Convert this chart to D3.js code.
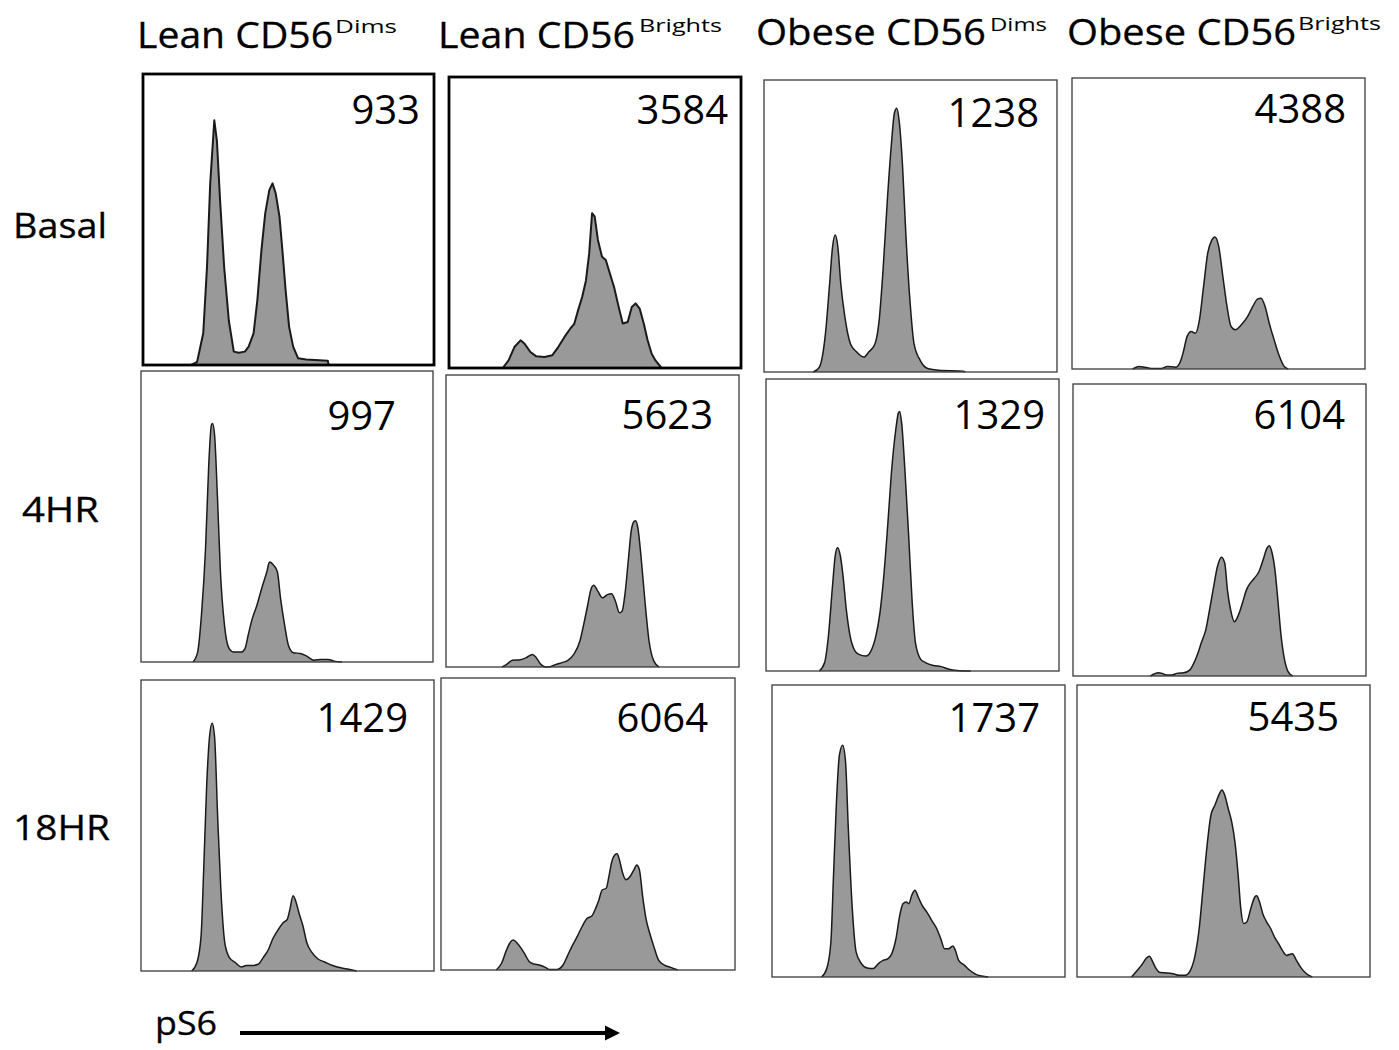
<!DOCTYPE html>
<html><head><meta charset="utf-8">
<script src="https://cdn.jsdelivr.net/npm/d3@7"></script>
<style>html,body{margin:0;padding:0;background:#fff;} svg{display:block;}</style>
</head><body>
<svg id="chart" width="1399" height="1050"></svg>
<script>
// ---------- DATA ----------
const groups = ["Lean CD56", "Lean CD56", "Obese CD56", "Obese CD56"];
const subsets = ["Dims", "Brights", "Dims", "Brights"];
const timepoints = ["Basal", "4HR", "18HR"];
const mfiBasal = [933, 3584, 1238, 4388];
const mfi4hr = [997, 5623, 1329, 6104];
const mfi18hr = [1429, 6064, 1737, 5435];
const axisLabel = "pS6";

// histograms: [pS6 position (% of panel width), count (% of panel height)]
const leanDimBasal = [[16.6,0],[18.6,1.1],[20.7,10.9],[22.0,33.8],[23.1,62.5],[24.5,84.1],[25.4,77.0],[26.5,56.4],[27.9,33.5],[29.5,15.2],[31.2,4.6],[32.9,4.2],[35.0,4.6],[36.3,6.3],[38.0,10.9],[39.3,22.3],[40.7,39.5],[42.0,52.1],[43.4,60.1],[44.5,62.4],[45.6,59.0],[46.9,51.0],[47.9,39.5],[49.0,25.8],[50.2,13.2],[51.6,6.3],[53.3,2.3],[56.1,1.9],[63.5,1.5],[63.8,0]];
const leanBrightBasal = [[18.4,0],[20.4,2.6],[22.4,7.2],[24.5,9.5],[25.9,8.3],[27.9,5.5],[29.9,4.0],[32.7,3.8],[35.4,4.4],[37.4,7.2],[39.5,10.6],[41.5,13.5],[42.9,15.2],[44.2,19.8],[45.6,24.4],[46.9,30.1],[48.0,39.3],[49.0,53.2],[49.9,52.0],[51.0,44.0],[52.4,38.2],[53.7,37.1],[55.1,32.5],[56.5,27.9],[58.1,21.0],[59.5,15.3],[61.2,15.8],[62.6,21.0],[63.9,22.2],[65.3,20.4],[66.7,15.3],[68.0,9.6],[69.4,4.9],[70.7,2.6],[72.8,0]];
const obeseDimBasal = [[16.8,0],[18.9,1.7],[21.0,13.4],[22.4,30.3],[23.4,42.9],[24.3,46.9],[25.2,42.9],[26.2,30.3],[27.6,18.9],[29.5,9.7],[31.6,6.9],[34.1,5.1],[35.8,6.9],[37.9,9.7],[39.3,17.7],[40.7,36.0],[42.1,58.9],[43.5,78.3],[44.5,88.6],[45.3,90.3],[46.1,86.3],[47.3,70.3],[48.4,47.4],[49.8,24.6],[51.2,9.7],[53.3,4.0],[56.1,1.1],[59.6,0.6],[68.0,0.3],[68.7,0]];
const obeseBrightBasal = [[20.7,0],[22.8,0.9],[24.9,0.6],[27.0,0.2],[30.5,0.2],[32.6,0.9],[35.4,0.6],[36.8,2.1],[37.9,5.5],[39.3,11.2],[40.7,12.9],[42.1,12.3],[43.5,16.9],[44.9,28.3],[46.3,39.7],[47.7,44.3],[48.8,45.4],[50.1,42.0],[51.5,31.7],[52.9,21.5],[54.3,14.6],[55.7,13.5],[57.8,15.2],[59.9,18.0],[61.7,21.5],[63.4,24.1],[64.5,24.3],[65.9,21.5],[67.3,15.8],[69.0,10.0],[70.6,4.9],[72.4,0.9],[73.8,0]];
const leanDim4hr = [[17.8,0],[19.4,3.4],[20.7,16.1],[22.1,39.0],[23.2,67.7],[24.1,81.4],[24.5,82.0],[25.2,78.0],[26.2,56.2],[27.2,31.0],[28.6,12.6],[30.2,4.6],[31.8,3.4],[34.3,3.4],[35.6,4.6],[36.7,9.2],[38.1,14.9],[39.7,19.5],[41.3,25.2],[43.1,31.0],[44.0,34.4],[45.4,33.3],[46.7,31.0],[47.8,21.8],[49.2,12.6],[50.5,5.7],[52.2,3.2],[54.6,2.9],[56.6,2.1],[59.3,0.6],[61.4,0.9],[64.1,0.9],[66.1,0.3],[68.8,0]];
const leanBright4hr = [[19.1,0],[20.7,0.9],[22.7,2.3],[25.4,2.5],[27.4,3.2],[29.5,4.3],[30.8,3.2],[32.2,1.1],[33.9,0],[35.8,0.2],[37.6,0.9],[39.6,1.5],[41.6,2.3],[43.6,4.3],[45.7,8.9],[47.0,14.6],[48.4,21.4],[49.3,26.0],[50.4,28.0],[51.8,26.0],[53.4,23.7],[55.1,24.8],[56.5,25.1],[57.8,22.6],[59.2,18.6],[60.1,19.1],[61.2,26.0],[62.3,37.4],[63.2,46.5],[64.2,49.9],[64.7,50.1],[65.5,47.6],[66.6,37.4],[68.0,21.4],[69.3,8.9],[70.9,2.1],[72.7,0]];
const obeseDim4hr = [[18.2,0],[20.0,2.9],[21.3,12.0],[22.7,29.1],[23.6,39.3],[24.4,42.2],[25.4,39.3],[26.3,32.5],[27.4,21.1],[28.7,12.0],[30.4,6.8],[31.7,5.7],[34.1,5.1],[35.8,6.8],[37.5,12.0],[38.9,20.0],[40.2,32.5],[41.6,50.7],[42.9,69.0],[44.3,82.7],[45.2,88.4],[45.6,88.9],[46.3,84.9],[47.4,68.9],[48.7,46.2],[49.9,23.4],[51.0,9.7],[52.8,4.0],[54.4,2.9],[57.1,1.9],[59.8,1.5],[62.5,0.6],[65.2,0.2],[69.9,0]];
const obeseBright4hr = [[26.4,0],[27.7,0.7],[29.1,1.1],[30.4,0.9],[31.8,0.3],[33.8,0.3],[35.4,0.9],[37.8,1.1],[39.9,2.1],[41.2,4.3],[42.6,7.7],[43.9,11.7],[45.3,15.7],[46.6,22.6],[48.0,30.6],[49.3,37.5],[50.7,40.7],[51.8,38.6],[52.7,29.5],[53.8,22.6],[55.1,18.6],[56.5,21.0],[57.8,24.9],[59.2,29.5],[60.5,31.8],[61.9,33.5],[63.5,35.8],[64.9,39.8],[66.2,43.8],[67.0,44.6],[67.8,42.7],[68.9,36.5],[70.0,25.1],[70.9,14.9],[72.0,6.6],[73.4,1.5],[75.0,0]];
const leanDim18hr = [[17.3,0],[19.1,2.9],[20.5,12.0],[21.4,34.9],[22.4,63.4],[23.4,80.6],[24.3,85.1],[25.1,80.6],[26.2,52.0],[27.2,29.1],[28.6,9.7],[30.2,4.6],[32.2,2.9],[34.3,1.4],[35.9,1.9],[37.7,1.9],[40.0,2.3],[41.7,4.6],[43.5,7.4],[44.9,10.9],[46.5,13.7],[48.5,16.6],[49.9,17.7],[50.8,21.1],[51.9,25.9],[53.0,23.4],[53.9,20.0],[55.3,15.4],[56.6,9.7],[58.4,6.3],[60.3,4.2],[62.7,3.1],[65.4,1.9],[68.2,1.1],[70.9,0.6],[73.6,0]];
const leanBright18hr = [[18.8,0],[20.6,2.3],[22.3,6.9],[23.7,9.7],[24.6,10.3],[26.0,9.1],[27.3,7.4],[28.7,5.1],[30.0,2.9],[31.4,2.1],[33.4,1.7],[35.5,0.9],[36.8,0.2],[39.5,0.2],[41.5,1.7],[42.9,4.6],[44.5,8.0],[46.3,11.4],[48.0,14.9],[49.7,17.7],[51.3,18.5],[52.6,21.1],[53.7,24.0],[54.8,27.4],[56.2,28.0],[57.1,32.0],[58.1,37.1],[59.1,39.4],[59.9,39.8],[60.7,37.7],[61.8,33.1],[62.9,30.9],[64.3,32.0],[65.6,34.3],[66.6,36.0],[67.5,34.3],[68.6,25.1],[69.7,17.7],[71.0,12.6],[72.4,8.0],[74.0,3.4],[76.0,1.7],[78.1,0.9],[80.5,0]];
const obeseDim18hr = [[16.9,0],[18.7,2.9],[20.1,12.0],[21.0,34.9],[22.0,60.0],[23.0,76.0],[24.1,79.4],[25.1,73.7],[26.0,52.0],[27.4,23.4],[28.7,8.6],[30.5,4.6],[32.5,3.1],[34.6,2.9],[36.3,4.6],[37.9,5.7],[39.6,6.3],[40.9,8.0],[42.3,13.1],[43.6,21.1],[44.7,25.1],[45.8,25.7],[46.7,25.1],[47.7,28.0],[48.8,29.7],[49.9,27.4],[51.2,24.6],[52.8,22.3],[54.5,19.4],[56.2,16.6],[57.6,13.1],[58.9,9.7],[60.3,9.7],[61.7,10.6],[62.6,9.1],[63.7,5.7],[65.7,4.0],[67.5,2.3],[69.8,0.8],[73.8,0]];
const obeseBright18hr = [[18.6,0],[20.6,2.3],[22.4,4.6],[23.7,6.5],[24.7,7.1],[25.6,5.7],[26.7,3.4],[28.4,1.5],[30.8,1.4],[32.8,1.1],[34.9,0.6],[36.9,0.6],[38.7,2.3],[40.3,7.4],[41.7,16.6],[43.0,30.3],[44.4,45.1],[45.7,55.4],[47.1,58.9],[48.4,62.3],[49.5,64.0],[50.4,62.3],[51.6,57.7],[52.8,53.1],[53.9,46.3],[55.0,34.9],[55.9,23.4],[56.9,18.3],[58.0,18.9],[59.3,23.4],[60.7,27.4],[61.3,27.8],[62.3,25.7],[63.4,21.7],[64.7,18.9],[66.1,16.6],[67.4,13.7],[68.8,11.4],[70.1,9.1],[71.5,7.4],[73.5,8.0],[74.9,5.7],[76.3,3.4],[78.3,1.1],[80.3,0]];

// ---------- LAYOUT (positions / styles, not data) ----------
const FONT = "'Open Sans', 'Liberation Sans', sans-serif";
const panelBoxes = [
  [[143,74,291,291],[449,77,292,291],[764,80,293,292],[1072,78,293,291]],
  [[141,371,292,291],[446,375,293,292],[766,379,293,292],[1073,384,293,292]],
  [[141,680,293,291],[441,678,294,292],[772,685,293,292],[1077,685,293,292]]
];
const mfiAnchor = [
  [[420,124],[728,124],[1039,127],[1346,123]],
  [[396,430],[713,429],[1045,429],[1345,429]],
  [[408,732],[708,732],[1040,732],[1339,731]]
];
const titleLayout = [
  {x:137, w:196, y:48, sx:335, sw:62, sy:33},
  {x:438, w:197, y:48, sx:639, sw:83, sy:32},
  {x:756, w:230, y:45, sx:990, sw:57, sy:31},
  {x:1067, w:229, y:45, sx:1298, sw:83, sy:30}
];
const rowLabelLayout = [
  {x:13, w:94, y:238},
  {x:22, w:77, y:522},
  {x:13, w:97, y:840}
];

const svg = d3.select("#chart");
svg.append("rect").attr("width",1399).attr("height",1050).attr("fill","#fff");

const histograms = [
  [leanDimBasal, leanBrightBasal, obeseDimBasal, obeseBrightBasal],
  [leanDim4hr, leanBright4hr, obeseDim4hr, obeseBright4hr],
  [leanDim18hr, leanBright18hr, obeseDim18hr, obeseBright18hr]
];
const mfis = [mfiBasal, mfi4hr, mfi18hr];

// column titles
groups.forEach((g, i) => {
  const L = titleLayout[i];
  svg.append("text").attr("x", L.x).attr("y", L.y)
    .attr("font-family", FONT).attr("font-size", 36).attr("fill", "#000")
    .attr("stroke", "#000").attr("stroke-width", 0.3)
    .attr("textLength", L.w).attr("lengthAdjust", "spacingAndGlyphs")
    .text(g);
  svg.append("text").attr("x", L.sx).attr("y", L.sy)
    .attr("font-family", FONT).attr("font-size", 19).attr("fill", "#000")
    .attr("textLength", L.sw).attr("lengthAdjust", "spacingAndGlyphs")
    .text(subsets[i]);
});

// row labels
timepoints.forEach((t, r) => {
  const L = rowLabelLayout[r];
  svg.append("text").attr("x", L.x).attr("y", L.y)
    .attr("font-family", FONT).attr("font-size", 34).attr("fill", "#000")
    .attr("stroke", "#000").attr("stroke-width", 0.3)
    .attr("textLength", L.w).attr("lengthAdjust", "spacingAndGlyphs")
    .text(t);
});

// panels
histograms.forEach((row, r) => {
  row.forEach((hist, c) => {
    const [bx, by, bw, bh] = panelBoxes[r][c];
    const x = d3.scaleLinear().domain([0, 100]).range([bx, bx + bw]);
    const y = d3.scaleLinear().domain([0, 100]).range([by + bh, by]);
    const jagged = (r === 0 && c < 2);
    const curve = jagged ? d3.curveLinear : d3.curveMonotoneX;
    const g = svg.append("g");
    g.append("path").datum(hist)
      .attr("d", d3.area().x(d => x(d[0])).y0(y(0)).y1(d => y(d[1])).curve(curve))
      .attr("fill", "#999999");
    g.append("path").datum(hist)
      .attr("d", d3.line().x(d => x(d[0])).y(d => y(d[1])).curve(curve))
      .attr("fill", "none").attr("stroke", "#1a1a1a").attr("stroke-width", jagged ? 2 : 1.5)
      .attr("stroke-linejoin", "round");
    g.append("rect").attr("x", bx).attr("y", by).attr("width", bw).attr("height", bh)
      .attr("fill", "none")
      .attr("stroke", jagged ? "#000" : "#3a3a3a")
      .attr("stroke-width", jagged ? 2.8 : 1.3);
    const [tx, ty] = mfiAnchor[r][c];
    g.append("text").attr("x", tx).attr("y", ty).attr("text-anchor", "end")
      .attr("font-family", FONT).attr("font-size", 40).attr("fill", "#000")
      .text(mfis[r][c]);
  });
});

// x-axis label with arrow
svg.append("text").attr("x", 155).attr("y", 1035)
  .attr("font-family", FONT).attr("font-size", 32).attr("fill", "#000")
  .attr("stroke", "#000").attr("stroke-width", 0.3)
  .attr("textLength", 62).attr("lengthAdjust", "spacingAndGlyphs")
  .text(axisLabel);
svg.append("defs").append("marker").attr("id", "arrowhead")
  .attr("viewBox", "0 0 10 10").attr("refX", 0).attr("refY", 5)
  .attr("markerWidth", 3.8).attr("markerHeight", 4.2).attr("markerUnits", "strokeWidth")
  .attr("orient", "auto")
  .append("path").attr("d", "M0,0 L10,5 L0,10 Z").attr("fill", "#000");
svg.append("line").attr("x1", 240).attr("y1", 1033).attr("x2", 605).attr("y2", 1033)
  .attr("stroke", "#000").attr("stroke-width", 4).attr("marker-end", "url(#arrowhead)");
</script>
</body></html>
